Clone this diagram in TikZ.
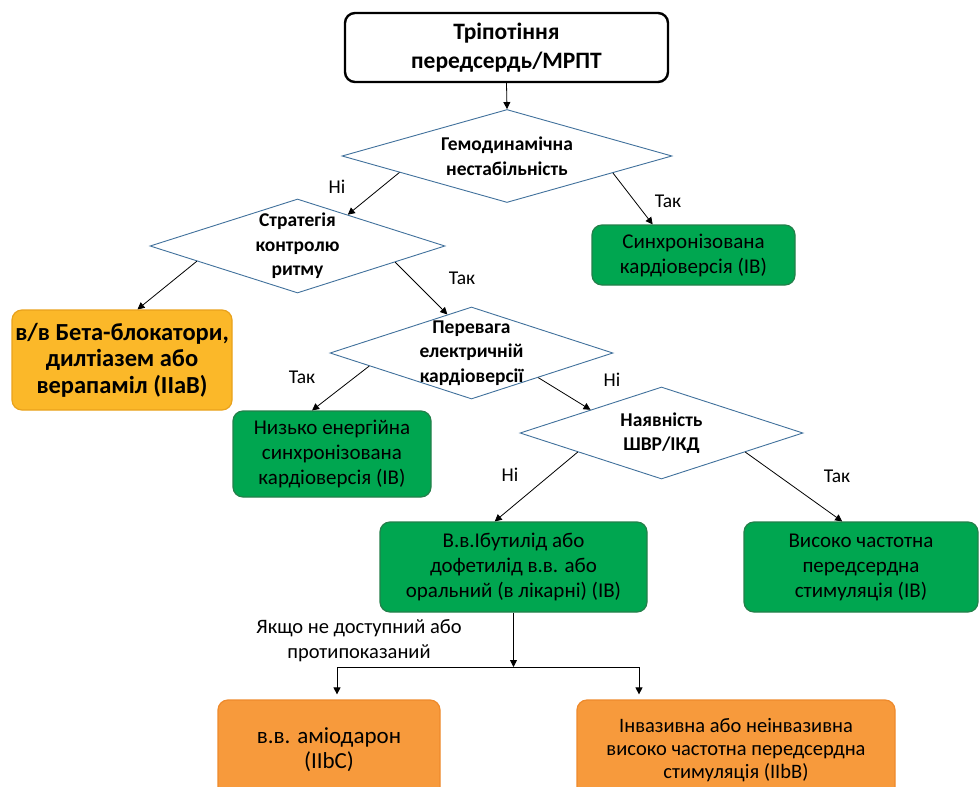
\documentclass[tikz,border=0pt]{standalone}
\usepackage{fontspec}
\setmainfont{Carlito}
\usepackage{xcolor}
\usetikzlibrary{shapes.geometric,arrows.meta,calc}
\definecolor{leaf}{HTML}{00A650}
\definecolor{leafdark}{HTML}{23804A}
\definecolor{amber}{HTML}{FBB829}
\definecolor{amberdark}{HTML}{E9A21C}
\definecolor{tangerine}{HTML}{F79A3C}
\definecolor{tangerinedark}{HTML}{EE8A2C}
\definecolor{steel}{HTML}{41719C}

\begin{document}
\begin{tikzpicture}[
  x=1pt, y=-1pt,
  txt/.style={font=\fontsize{21}{25}\selectfont},
  rbox/.style={rounded corners=10pt, align=center, inner sep=0pt},
  startbox/.style={rbox, draw=black, line width=2.4pt, fill=white, font=\bfseries\fontsize{23.5}{29}\selectfont},
  okbox/.style={rbox, draw=leafdark, line width=1.2pt, fill=leaf, txt},
  ratebox/.style={rbox, draw=amberdark, line width=1.2pt, fill=amber, font=\bfseries\fontsize{24.5}{26.5}\selectfont},
  lastbox/.style={rbox, draw=tangerinedark, line width=1.2pt, fill=tangerine},
  decision/.style={diamond, draw=steel, line width=0.9pt, fill=white, inner sep=0pt, minimum width=283pt, minimum height=92pt},
  dtext/.style={font=\bfseries\fontsize{19.5}{24.5}\selectfont, align=center},
  arr/.style={-{Triangle[length=7pt,width=7pt]}, line width=0.8pt},
  lbl/.style={font=\fontsize{19.5}{23}\selectfont, align=center}
]
\useasboundingbox (0,0) rectangle (980,787);

% top: start and first question
\node[startbox, minimum width=323pt, minimum height=69pt] (start) at (506.5,47.5) {Тріпотіння\\передсердь/МРПТ};
\node[decision, minimum width=330pt, minimum height=93pt, label={[dtext]center:{Гемодинамічна\\нестабільність}}] (haemo) at (507,156) {};
\node[okbox, minimum width=203pt, minimum height=60pt] (sync) at (693.5,255) {Синхронізована\\кардіоверсія (IB)};

% rhythm / rate control
\node[decision, minimum width=295pt, minimum height=94pt, label={[dtext]center:{Стратегія\\контролю\\ритму}}] (rhythm) at (297.5,246) {};
\node[ratebox, minimum width=220pt, minimum height=100pt] (ratectl) at (122,360) {в/в Бета-блокатори,\\дилтіазем або\\верапаміл (IIaB)};

% electrical cardioversion
\node[decision, label={[dtext]center:{Перевага\\електричній\\кардіоверсії}}] (elcv) at (471.5,353) {};
\node[okbox, minimum width=198pt, minimum height=86pt] (lowcv) at (332,454) {Низько енергійна\\синхронізована\\кардіоверсія (IB)};

% pacemaker / ICD
\node[decision, label={[dtext]center:{Наявність\\ШВР/ІКД}}] (icd) at (661.5,433) {};
\node[okbox, minimum width=267pt, minimum height=90pt] (ibut) at (513.5,567) {В.в.Ібутилід або\\дофетилід в.в. або\\оральний (в лікарні) (IB)};
\node[okbox, minimum width=234pt, minimum height=90pt] (pacing) at (861,567) {Високо частотна\\передсердна\\стимуляція (IB)};

% fallback
\node[lbl, font=\fontsize{20.5}{25}\selectfont] (ifnot) at (359,640.5) {Якщо не доступний або\\протипоказаний};
\node[lastbox, font=\fontsize{23}{25}\selectfont, minimum width=222pt, minimum height=100pt] (amio) at (329,750) {в.в. аміодарон\\(IIbC)};
\node[lastbox, font=\fontsize{20.5}{23}\selectfont, minimum width=318pt, minimum height=100pt] (invas) at (736,750) {Інвазивна або неінвазивна\\високо частотна передсердна\\стимуляція (IIbB)};

% answers
\node[lbl] (noA)  at (337,187) {Ні};
\node[lbl] (yesA) at (668,201) {Так};
\node[lbl] (yesB) at (462,278) {Так};
\node[lbl] (yesC) at (302,377) {Так};
\node[lbl] (noC)  at (612,380) {Ні};
\node[lbl] (noD)  at (510,475) {Ні};
\node[lbl] (yesD) at (837,476) {Так};

\draw[arr] (start.south) -- (haemo.north);
\draw[arr] ($(haemo.west)!0.35!(haemo.south)$) -- ($(rhythm.north)!0.34!(rhythm.east)$);
\draw[arr] ($(haemo.south)!0.64!(haemo.east)$) -- ($(sync.north west)!0.3!(sync.north east)$);
\draw[arr] ($(rhythm.west)!0.32!(rhythm.south)$) -- ($(ratectl.north west)!0.57!(ratectl.north east)$);
\draw[arr] ($(rhythm.south)!0.66!(rhythm.east)$) -- ($(elcv.north)!0.17!(elcv.west)$);
\draw[arr] ($(elcv.west)!0.28!(elcv.south)$) -- ($(lowcv.north west)!0.4!(lowcv.north east)$);
\draw[arr] ($(elcv.south)!0.47!(elcv.east)$) -- ($(icd.north)!0.5!(icd.west)$);
\draw[arr] ($(icd.west)!0.41!(icd.south)$) -- ($(ibut.north west)!0.43!(ibut.north east)$);
\draw[arr] ($(icd.south)!0.59!(icd.east)$) -- ($(pacing.north west)!0.42!(pacing.north east)$);

\coordinate (split)  at (514,667);
\coordinate (splitL) at (337,667);
\coordinate (splitR) at (639,667);
\draw[arr] (ibut.south) -- (ibut.south |- split);
\draw[line width=0.8pt] (splitL) -- (splitR);
\draw[arr, shorten >=5pt] (splitL) -- (splitL |- amio.north);
\draw[arr, shorten >=5pt] (splitR) -- (splitR |- invas.north);
\end{tikzpicture}
\end{document}
